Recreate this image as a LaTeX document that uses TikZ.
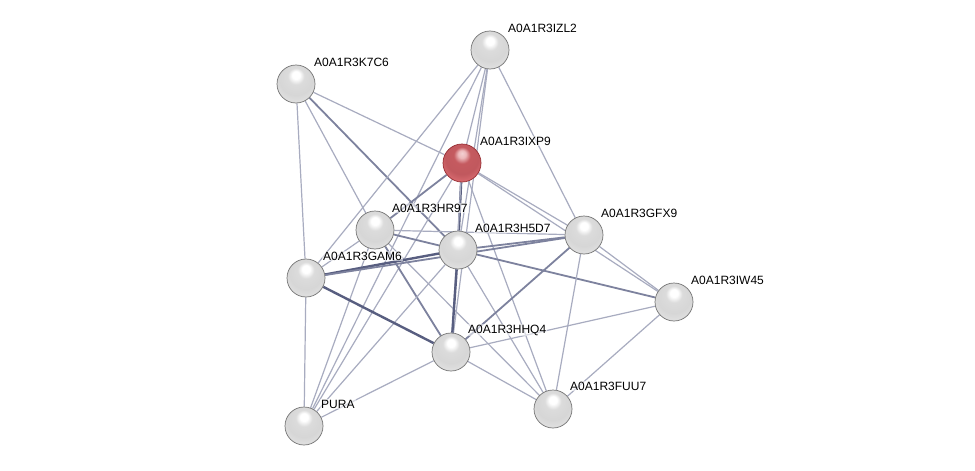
\documentclass[tikz,border=0pt]{standalone}
\usepackage{fontspec}
\setmainfont{Liberation Sans}
\usetikzlibrary{backgrounds}
\definecolor{ethin}{RGB}{168,172,192}
\definecolor{emed}{RGB}{125,130,158}
\definecolor{ethick}{RGB}{88,94,128}
\definecolor{qred}{RGB}{214,98,104}
\definecolor{qredd}{RGB}{150,45,50}
\pgfdeclareradialshading{strball}{\pgfpoint{0bp}{13bp}}{%
  color(0bp)=(white); color(5bp)=(white); color(11bp)=(white!86!black);
  color(22bp)=(white!84!black); color(30bp)=(white!88!black);
  color(36bp)=(white!62!black); color(50bp)=(white!50!black)}
\pgfdeclareradialshading{redball}{\pgfpoint{0bp}{13bp}}{%
  color(0bp)=(white!70!qred); color(5bp)=(white!55!qred); color(11bp)=(qred!92!black);
  color(22bp)=(qred!90!black); color(30bp)=(qred!95!white);
  color(36bp)=(qredd); color(50bp)=(qredd!80!black)}
\begin{document}
\begin{tikzpicture}[x=1pt,y=-1pt,
  ball/.style={circle, minimum size=38pt, inner sep=0pt, shading=strball, draw=white!45!black, line width=0.7pt},
  qball/.style={ball, shading=redball, draw=qredd},
  lbl/.style={anchor=west, font=\fontsize{12}{12}\selectfont, inner sep=1pt, fill=white, fill opacity=0.55, text opacity=1},
  ethin/.style={draw=ethin, line width=1.2pt},
  emed/.style={draw=emed, line width=1.8pt},
  ethick/.style={draw=ethick, line width=2.4pt}]
\useasboundingbox (0,0) rectangle (975,471);
% nodes
\node[ball]  (IZL2) at (490,50) {};
\node[ball]  (K7C6) at (296,84) {};
\node[qball] (IXP9) at (462,163) {};
\node[ball]  (HR97) at (375,230) {};
\node[ball]  (H5D7) at (458,250) {};
\node[ball]  (GFX9) at (584,235) {};
\node[ball]  (GAM6) at (306,278) {};
\node[ball]  (IW45) at (674,302) {};
\node[ball]  (HHQ4) at (451,352) {};
\node[ball]  (FUU7) at (553,409) {};
\node[ball]  (PURA) at (304,426) {};
% edges
\begin{scope}[on background layer]
\fill[white] (0,0) rectangle (975,471);
\draw[ethin] (K7C6) -- (GAM6);
\draw[ethin] (K7C6) -- (IXP9);
\draw[ethin] (K7C6) -- (HR97);
\draw[emed]  (K7C6) -- (H5D7);
\draw[ethin] (IZL2) -- (GAM6);
\draw[ethin] (IZL2) -- (PURA);
\draw[ethin] (IZL2) -- (IXP9);
\draw[ethin] (IZL2) -- (H5D7);
\draw[ethin] (IZL2) -- (HHQ4);
\draw[ethin] (IZL2) -- (GFX9);
\draw[ethick] (IXP9) -- (H5D7);
\draw[ethin] (IXP9) -- (HHQ4);
\draw[emed]  (IXP9) -- (HR97);
\draw[ethin] (IXP9) -- (GFX9);
\draw[ethin] (IXP9) -- (IW45);
\draw[ethin] (IXP9) -- (FUU7);
\draw[ethin] (IXP9) -- (PURA);
\draw[ethin] (HR97) -- (GAM6);
\draw[emed]  (HR97) -- (H5D7);
\draw[ethin] (HR97) -- (GFX9);
\draw[emed]  (HR97) -- (HHQ4);
\draw[ethin] (HR97) -- (FUU7);
\draw[ethin] (HR97) -- (PURA);
\draw[ethick] (H5D7) -- (GAM6);
\draw[emed]  (H5D7) -- (GFX9);
\draw[ethick] (H5D7) -- (HHQ4);
\draw[emed]  (H5D7) -- (IW45);
\draw[ethin] (H5D7) -- (PURA);
\draw[ethin] (H5D7) -- (FUU7);
\draw[emed]  (GAM6) -- (GFX9);
\draw[ethick] (GAM6) -- (HHQ4);
\draw[ethin] (GAM6) -- (PURA);
\draw[ethin] (GFX9) -- (IW45);
\draw[ethin] (GFX9) -- (FUU7);
\draw[emed]  (GFX9) -- (HHQ4);
\draw[ethin] (HHQ4) -- (PURA);
\draw[ethin] (HHQ4) -- (FUU7);
\draw[ethin] (HHQ4) -- (IW45);
\draw[ethin] (IW45) -- (FUU7);
\end{scope}
% labels
\node[lbl] (lIZL2) at ([shift={(17,-22)}]IZL2.center) {A0A1R3IZL2};
\node[lbl] (lK7C6) at ([shift={(17,-22)}]K7C6.center) {A0A1R3K7C6};
\node[lbl] (lIXP9) at ([shift={(17,-22)}]IXP9.center) {A0A1R3IXP9};
\node[lbl] (lHR97) at ([shift={(16,-22)}]HR97.center) {A0A1R3HR97};
\node[lbl] (lH5D7) at ([shift={(16,-22)}]H5D7.center) {A0A1R3H5D7};
\node[lbl] (lGFX9) at ([shift={(16,-22)}]GFX9.center) {A0A1R3GFX9};
\node[lbl] (lGAM6) at ([shift={(16,-22)}]GAM6.center) {A0A1R3GAM6};
\node[lbl] (lIW45) at ([shift={(16,-22)}]IW45.center) {A0A1R3IW45};
\node[lbl] (lHHQ4) at ([shift={(16,-22)}]HHQ4.center) {A0A1R3HHQ4};
\node[lbl] (lFUU7) at ([shift={(16,-23)}]FUU7.center) {A0A1R3FUU7};
\node[lbl] (lPURA) at ([shift={(16,-22)}]PURA.center) {PURA};
\end{tikzpicture}
\end{document}
